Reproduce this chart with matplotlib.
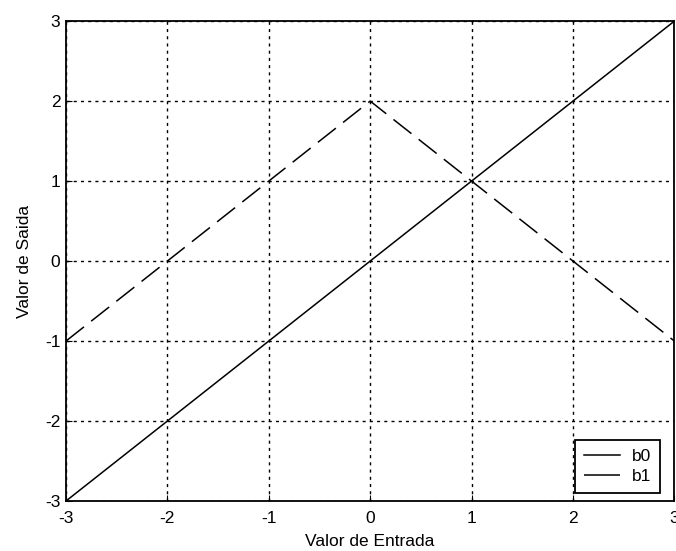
import matplotlib
matplotlib.use('Agg')
import matplotlib.pyplot as plt

plt.rcParams['font.family'] = ['Liberation Sans', 'DejaVu Sans']
plt.rcParams['axes.unicode_minus'] = False

x = [-3, 3]
b0 = [-3, 3]
xb1 = [-3, 0, 3]
b1 = [-1, 2, -1]
ticks = [-3, -2, -1, 0, 1, 2, 3]

fig = plt.figure(figsize=(6.76, 5.51), dpi=100)
ax = fig.add_axes([0.0976, 0.0907, 0.9, 0.871])

ax.plot(x, b0, color='black', lw=1.1, label='b0')
ax.plot(xb1, b1, color='black', lw=1.1, dashes=(15, 6), label='b1')

ax.set_xlim(-3, 3)
ax.set_ylim(-3, 3)
ax.set_xticks(ticks)
ax.set_yticks(ticks)
ax.tick_params(direction='in', length=4, labelsize=12.5, colors='black', pad=4)
ax.tick_params(axis='x', pad=7)
ax.grid(True, color='black', linestyle=(0, (2.2, 3.0)), lw=1.0)
for s in ax.spines.values():
    s.set_linewidth(1.3)

ax.set_xlabel('Valor de Entrada', fontsize=12.5, labelpad=6)
ax.set_ylabel('Valor de Saida', fontsize=12.5, labelpad=9)

leg = ax.legend(loc='lower right', bbox_to_anchor=(0.977, 0.017), fontsize=12.5,
                frameon=True, fancybox=False, edgecolor='black', framealpha=1,
                handlelength=2.1, handletextpad=0.7, borderaxespad=0,
                labelspacing=0.3, borderpad=0.5)
leg.get_frame().set_linewidth(1.3)
# short handle: show b1 as a single long dash like the original
leg.get_lines()[1].set_dashes((1, 0.01, 26, 10))

fig.savefig('out.png', dpi=100)
